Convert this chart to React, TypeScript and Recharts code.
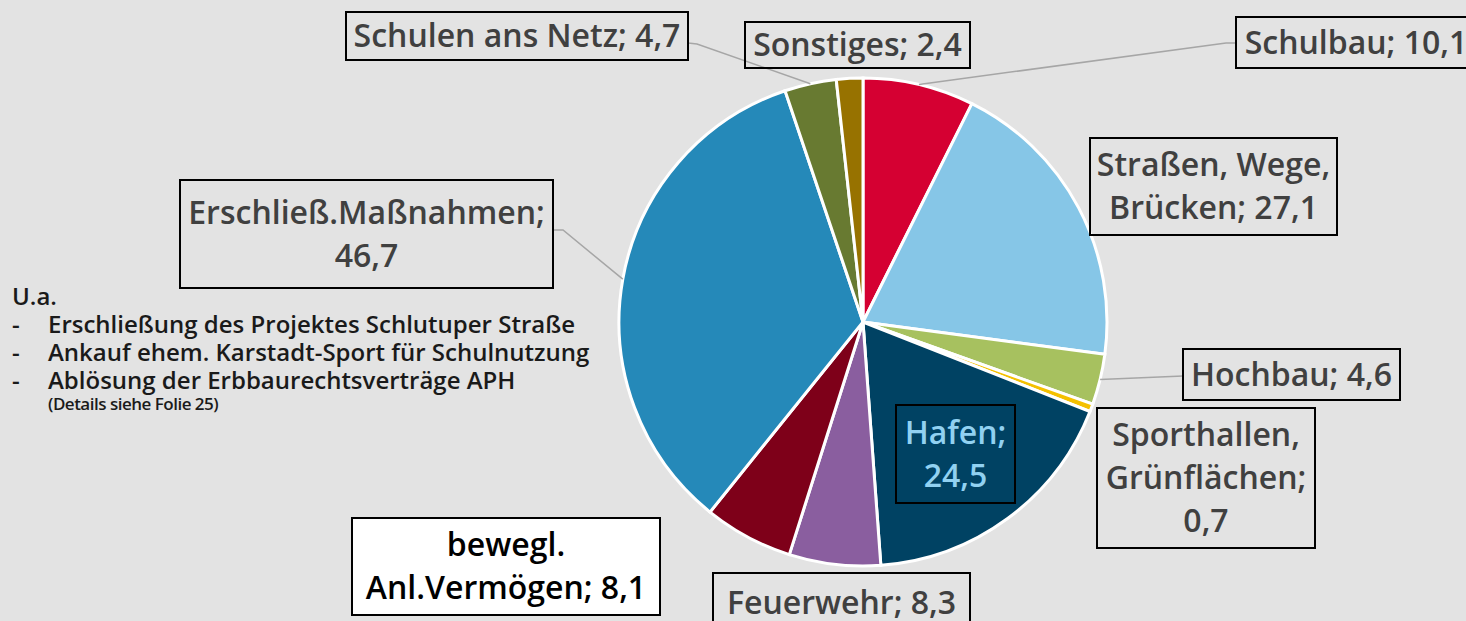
import { PieChart, Pie, Cell } from 'recharts'

const categories = [
  'Schulbau',
  'Straßen, Wege, Brücken',
  'Hochbau',
  'Sporthallen, Grünflächen',
  'Hafen',
  'Feuerwehr',
  'bewegl. Anl.Vermögen',
  'Erschließ.Maßnahmen',
  'Schulen ans Netz',
  'Sonstiges',
]
const values = [10.1, 27.1, 4.6, 0.7, 24.5, 8.3, 8.1, 46.7, 4.7, 2.4]
const colors = [
  '#d50032', '#86c6e7', '#a7c15f', '#f4c000', '#004263',
  '#8a5e9f', '#7e0019', '#2589b9', '#687a31', '#977200',
]

const noteTitle = 'U.a.'
const notes = [
  'Erschließung des Projektes Schlutuper Straße',
  'Ankauf ehem. Karstadt-Sport für Schulnutzung',
  'Ablösung der Erbbaurechtsverträge APH',
]
const noteSmall = '(Details siehe Folie 25)'

const data = categories.map((name, i) => ({ name, value: values[i] }))

// label boxes as drawn on the slide (x, y, w, h), word breaks, connector elbow
type LabelLayout = {
  box: [number, number, number, number]
  breaks: number[]
  attach?: [number, number]
  elbow?: [number, number]
  fill?: string
  color?: string
}

const layout: LabelLayout[] = [
  { box: [1236, 17, 240, 51], breaks: [], attach: [1236, 43], elbow: [1226, 43] },
  { box: [1090, 138, 247, 97], breaks: [2] },
  { box: [1183, 349, 217, 51], breaks: [], attach: [1183, 376], elbow: [1183, 376] },
  { box: [1097, 408, 218, 140], breaks: [1, 2] },
  { box: [896, 405, 119, 98], breaks: [1], color: '#91d1f1' },
  { box: [713, 573, 257, 60], breaks: [] },
  { box: [352, 518, 308, 97], breaks: [1], fill: '#ffffff', color: '#000000' },
  { box: [180, 180, 373, 108], breaks: [1], attach: [553, 230], elbow: [563, 230] },
  { box: [346, 12, 342, 48], breaks: [], attach: [688, 43], elbow: [697, 44] },
  { box: [745, 22, 225, 46], breaks: [] },
]

const RAD = Math.PI / 180
const FONT = '"Open Sans", "Noto Sans", sans-serif'

function labelLines(name: string, value: number, breaks: number[]) {
  const words = `${name}; ${value.toFixed(1).replace('.', ',')}`.split(' ')
  const lines: string[] = []
  let start = 0
  for (const b of [...breaks, words.length]) {
    lines.push(words.slice(start, b).join(' '))
    start = b
  }
  return lines
}

function renderLabel(props: any) {
  const { cx, cy, midAngle, outerRadius, index, name, value } = props
  const l = layout[index]
  const [x, y, w, h] = l.box
  const lines = labelLines(name, value, l.breaks)
  const lh = 43
  const mid = y + h / 2
  const px = cx + outerRadius * Math.cos(-midAngle * RAD)
  const py = cy + outerRadius * Math.sin(-midAngle * RAD)
  return (
    <g key={`lbl-${index}`}>
      {l.attach && l.elbow && (
        <polyline
          points={`${px},${py} ${l.elbow[0]},${l.elbow[1]} ${l.attach[0]},${l.attach[1]}`}
          fill="none"
          stroke="#a6a6a6"
          strokeWidth={1.5}
        />
      )}
      <rect x={x} y={y} width={w} height={h} fill={l.fill ?? 'none'} stroke="#000" strokeWidth={2} />
      {lines.map((t, i) => (
        <text
          key={i}
          x={x + w / 2}
          y={mid + (i - (lines.length - 1) / 2) * lh + 11}
          textAnchor="middle"
          fontFamily={FONT}
          fontWeight={600}
          fontSize={32}
          fill={l.color ?? '#404040'}
        >
          {t}
        </text>
      ))}
    </g>
  )
}

export default function App() {
  return (
    <div style={{ position: 'absolute', left: 0, top: 0, width: 1466, height: 621, background: '#e3e3e3', overflow: 'hidden' }}>
      <PieChart width={1466} height={621} margin={{ top: 0, right: 0, bottom: 0, left: 0 }}>
        <Pie
          data={data}
          dataKey="value"
          nameKey="name"
          cx={863}
          cy={322}
          outerRadius={244}
          startAngle={90}
          endAngle={-270}
          stroke="#ffffff"
          strokeWidth={3}
          label={renderLabel}
          labelLine={false}
          isAnimationActive={false}
        >
          {data.map((d, i) => (
            <Cell key={d.name} fill={colors[i]} />
          ))}
        </Pie>
      </PieChart>
      <div
        style={{
          position: 'absolute',
          left: 12,
          top: 282,
          fontFamily: FONT,
          fontWeight: 600,
          color: '#1a1a1a',
          fontSize: 24,
          lineHeight: '28px',
        }}
      >
        <div>{noteTitle}</div>
        {notes.map((n) => (
          <div key={n} style={{ display: 'flex' }}>
            <span style={{ width: 36 }}>-</span>
            <span>{n}</span>
          </div>
        ))}
        <div style={{ paddingLeft: 36, fontSize: 17, lineHeight: '20px', letterSpacing: -0.5 }}>{noteSmall}</div>
      </div>
    </div>
  )
}
